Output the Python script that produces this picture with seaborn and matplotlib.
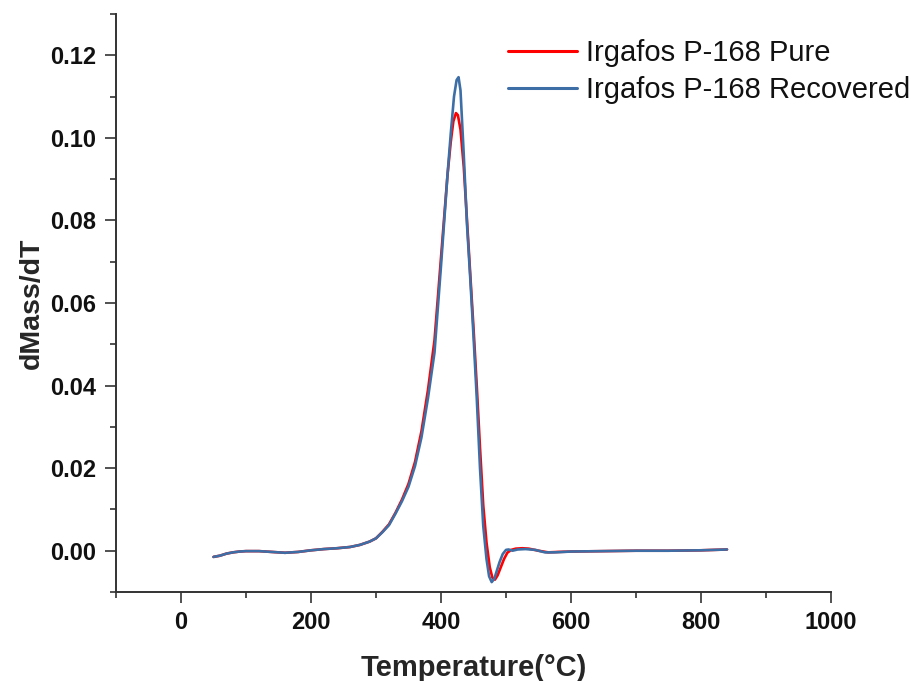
import matplotlib
matplotlib.use("Agg")
import matplotlib.pyplot as plt
import seaborn as sns
import pandas as pd
from matplotlib.ticker import MultipleLocator

# ---- data ----
temp_pure = [50, 60, 70, 80, 90, 100, 120, 140, 160, 180, 200, 220, 240, 260, 275, 290, 300,
             310, 320, 330, 340, 350, 360, 370, 380, 390, 400, 405, 410, 415, 419, 423, 426,
             430, 435, 440, 445, 450, 455, 460, 465, 470, 475, 479, 483, 487, 492, 497, 502,
             508, 515, 525, 535, 550, 565, 580, 600, 650, 700, 750, 800, 840]
dmass_pure = [-0.0015, -0.0012, -0.0007, -0.0004, -0.0002, -0.0001, -0.0001, -0.0003, -0.0005,
              -0.0003, 0.0001, 0.0004, 0.0006, 0.0009, 0.0014, 0.0022, 0.0030,
              0.0046, 0.0064, 0.0092, 0.0124, 0.0162, 0.0215, 0.0290, 0.0390, 0.0510, 0.0710,
              0.0810, 0.0910, 0.0990, 0.1040, 0.1060, 0.1055,
              0.1020, 0.0930, 0.0800, 0.0670, 0.0540, 0.0400, 0.0250, 0.0110, 0.0020, -0.0040,
              -0.0065, -0.0070, -0.0060, -0.0040, -0.0020, -0.0005,
              0.0002, 0.0005, 0.0006, 0.0005, 0.0000, -0.0004, -0.0003, -0.0002, -0.0001,
              0.0000, 0.0000, 0.0001, 0.0003]

temp_rec = [50, 60, 70, 80, 90, 100, 120, 140, 160, 180, 200, 220, 240, 260, 275, 290, 300,
            310, 320, 330, 340, 350, 360, 370, 380, 390, 400, 405, 410, 415, 420, 424, 427,
            430, 435, 440, 445, 450, 455, 460, 465, 470, 474, 478, 482, 486, 490, 495, 500,
            504, 510, 518, 530, 545, 560, 575, 600, 650, 700, 750, 800, 840]
dmass_rec = [-0.0015, -0.0012, -0.0007, -0.0004, -0.0002, -0.0001, -0.0001, -0.0003, -0.0005,
             -0.0003, 0.0001, 0.0004, 0.0006, 0.0009, 0.0014, 0.0022, 0.0030,
             0.0045, 0.0062, 0.0090, 0.0120, 0.0155, 0.0205, 0.0275, 0.0370, 0.0480, 0.0690,
             0.0800, 0.0910, 0.1010, 0.1100, 0.1140, 0.1147,
             0.1115, 0.0960, 0.0790, 0.0660, 0.0520, 0.0370, 0.0200, 0.0060, -0.0020, -0.0062,
             -0.0076, -0.0068, -0.0048, -0.0028, -0.0008, 0.0002,
             0.0003, 0.0000, 0.0003, 0.0004, 0.0002, -0.0004, -0.0004, -0.0002, -0.0001,
             0.0000, 0.0000, 0.0001, 0.0003]

label_pure = "Irgafos P-168 Pure"
label_rec = "Irgafos P-168 Recovered"
x_ticks = [0, 200, 400, 600, 800, 1000]
y_ticks = [0.00, 0.02, 0.04, 0.06, 0.08, 0.10, 0.12]

sns.set_style("ticks")
plt.rcParams["font.family"] = ["Liberation Sans", "DejaVu Sans"]

fig = plt.figure(figsize=(9.19, 6.81), dpi=100)
ax = fig.add_axes([116 / 919, 1 - 592 / 681, (831 - 116) / 919, (592 - 14) / 681])

df_p = pd.DataFrame({"T": temp_pure, "d": dmass_pure})
df_r = pd.DataFrame({"T": temp_rec, "d": dmass_rec})
sns.lineplot(data=df_p, x="T", y="d", ax=ax, color="#FF0000", linewidth=1.9,
             sort=False, estimator=None, label=label_pure)
sns.lineplot(data=df_r, x="T", y="d", ax=ax, color="#3D6FA6", linewidth=1.9,
             sort=False, estimator=None, label=label_rec)

ax.set_xlim(-100, 1000)
ax.set_ylim(-0.01, 0.13)
ax.set_xticks(x_ticks)
ax.set_yticks(y_ticks)
ax.set_xticklabels([str(v) for v in x_ticks])
ax.set_yticklabels([f"{v:.2f}" for v in y_ticks])
ax.xaxis.set_minor_locator(MultipleLocator(100))
ax.yaxis.set_minor_locator(MultipleLocator(0.01))

for s in ["top", "right"]:
    ax.spines[s].set_visible(False)
for s in ["left", "bottom"]:
    ax.spines[s].set_linewidth(1.4)
    ax.spines[s].set_color("#333333")

ax.tick_params(which="major", direction="out", length=8, width=1.2, color="#333333",
               labelsize=17, pad=6)
ax.tick_params(which="minor", direction="out", length=4.5, width=1.2, color="#333333")
for lab in ax.get_xticklabels() + ax.get_yticklabels():
    lab.set_fontweight("bold")
    lab.set_color("#111111")

ax.set_xlabel("Temperature(°C)", fontsize=21, fontweight="bold", labelpad=14)
ax.set_ylabel("dMass/dT", fontsize=20.5, fontweight="bold", labelpad=4)

leg = ax.legend(loc="upper left", bbox_to_anchor=(508 / 919, 1 - 39 / 681),
                bbox_transform=fig.transFigure, frameon=False, fontsize=21,
                handlelength=2.35, handletextpad=0.33, labelspacing=0.32,
                borderpad=0, borderaxespad=0)
for line in leg.get_lines():
    line.set_linewidth(2.2)
for t in leg.get_texts():
    t.set_color("#111111")

fig.savefig("out.png", dpi=100)
